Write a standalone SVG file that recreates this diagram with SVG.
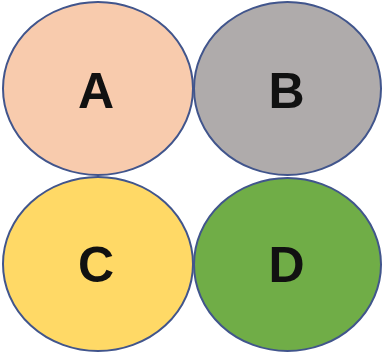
<svg xmlns="http://www.w3.org/2000/svg" width="382" height="361" viewBox="0 0 382 361">
<style>
.n{stroke:#41558c;stroke-width:2}
.t{font-family:"Liberation Sans",Arial,sans-serif;font-weight:bold;font-size:50px;fill:#111;text-anchor:middle}
</style>
<rect width="382" height="361" fill="#fff"/>
<g id="A"><ellipse class="n" cx="98" cy="88.5" rx="95" ry="86.5" fill="#f8cbad"/><text class="t" x="96" y="108">A</text></g>
<g id="B"><ellipse class="n" cx="287.5" cy="88.5" rx="93.5" ry="86.5" fill="#afabab"/><text class="t" x="286.5" y="108">B</text></g>
<g id="C"><ellipse class="n" cx="98" cy="264" rx="95" ry="87" fill="#ffd966"/><text class="t" x="96" y="282">C</text></g>
<g id="D"><ellipse class="n" cx="287.5" cy="264.5" rx="93.5" ry="86.5" fill="#70ad47"/><text class="t" x="286.5" y="282">D</text></g>
<g id="connectors"/>
</svg>
